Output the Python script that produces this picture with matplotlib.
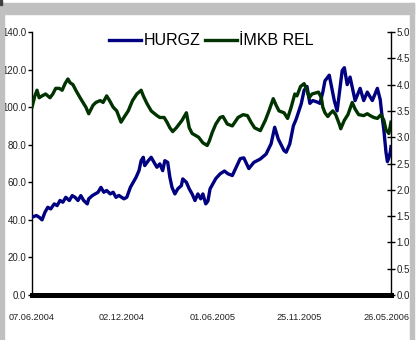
import matplotlib
matplotlib.use('Agg')
import matplotlib.pyplot as plt
from matplotlib.patches import Rectangle

plt.rcParams['font.family'] = ['Liberation Sans', 'DejaVu Sans']

# trading day index (0 = 07.06.2004) and values
imkb_days = [0, 4, 7, 10, 14, 19, 25, 29, 33, 38, 42, 46, 50, 53, 57, 61, 67, 71, 75, 79,
             85, 89, 95, 99, 104, 108, 113, 118, 124, 128, 134, 140, 146, 152, 155, 160,
             166, 174, 178, 184, 188, 192, 196, 201, 209, 215, 219, 223, 232, 238, 244,
             247, 251, 256, 262, 266, 272, 279, 287, 294, 300, 305, 310, 318, 325, 330,
             336, 340, 344, 351, 356, 361, 366, 369, 374, 379, 383, 386, 390, 399, 403,
             405, 408, 412, 415, 419, 423, 428, 430, 435, 440, 446, 450, 455, 462, 467,
             471, 476, 481, 486, 490, 493, 497, 500]
imkb_rel = [100, 106, 109, 105, 106, 107, 105, 107, 110, 110, 109, 112.5, 115, 113, 112,
            109, 105, 102.5, 100, 96.5, 101, 102.5, 103.5, 102.5, 106, 103.5, 100, 98, 92,
            94.5, 98, 103.5, 107, 109, 106, 102, 98, 95.5, 94.5, 94.5, 92, 89, 87, 89, 93,
            97, 89, 86, 84, 81, 79.6, 82, 86.5, 91, 94.5, 95, 91, 90, 94.5, 96, 95.5, 92,
            89, 87.5, 93, 98, 104.5, 101, 98, 97, 94, 100, 107, 106, 111, 112.5, 109, 105,
            107, 108, 105, 100, 97, 95, 96.5, 98, 96, 91, 88.5, 93, 96, 102.5, 99, 96,
            95.5, 96.5, 95.5, 94.5, 94, 96, 93, 88, 86, 92]

hurgz_days = [0, 6, 10, 14, 18, 22, 26, 31, 35, 39, 43, 47, 52, 56, 60, 64, 68, 72, 77, 79,
              84, 88, 92, 96, 100, 104, 109, 113, 117, 121, 128, 132, 137, 141, 145, 149,
              152, 155, 157, 162, 166, 170, 174, 178, 182, 185, 189, 192, 195, 199, 203,
              208, 210, 215, 219, 223, 227, 231, 235, 238, 242, 245, 248, 256, 262, 268,
              273, 279, 290, 295, 302, 309, 318, 326, 333, 338, 343, 351, 354, 359, 364,
              368, 375, 379, 383, 387, 391, 398, 401, 405, 408, 414, 421, 425, 432, 435,
              439, 443, 450, 457, 462, 467, 474, 481, 485, 487, 490, 493, 495, 497, 499, 500]
hurgz = [41.4, 42.3, 41.4, 40, 44, 46.7, 45.8, 48.5, 47.6, 50.3, 49.4, 52, 50.3, 52.9, 52,
         50.3, 52.9, 50.3, 48.5, 51.2, 52.9, 53.8, 54.7, 57.3, 54.7, 55.6, 53.8, 54.7, 52,
         53, 51.2, 52, 57.3, 60, 62.7, 66.2, 71.5, 73.3, 68.9, 71.5, 73.3, 70.6, 68, 69.8,
         66.2, 71.5, 70.6, 62.7, 57.3, 53.8, 56.5, 58.2, 61.8, 60, 56.5, 53.8, 50.3, 53.8,
         51.2, 53.8, 48.5, 50, 56.5, 62, 64.5, 66, 64.5, 63.6, 72.6, 73, 67.3, 70.6, 72.4,
         75, 80.5, 89.3, 83, 76.9, 76, 80.4, 90, 93.7, 101.8, 109, 111, 102, 103.5, 102.6,
         102, 107.9, 114, 117, 103.5, 98, 119.4, 121, 112, 116, 103.5, 110, 103.5, 108,
         103.5, 110, 104, 97, 88, 76, 71, 73, 76, 79]

tick_days = [0, 125, 251, 372, 494]
tick_labels = ['07.06.2004', '02.12.2004', '01.06.2005', '25.11.2005', '26.05.2006']

fig = plt.figure(figsize=(4.17, 3.40), dpi=100)
fig.patch.set_facecolor('white')

# grey frame bits around the chart
gray = '#c0c0c0'
fig.patches.append(Rectangle((0, 1 - 14/340), 414/417, 11/340, transform=fig.transFigure, color=gray, zorder=0))
fig.patches.append(Rectangle((0, 0), 4/417, 1 - 3/340, transform=fig.transFigure, color=gray, zorder=0))
fig.patches.append(Rectangle((410/417, 0), 4/417, 1 - 3/340, transform=fig.transFigure, color=gray, zorder=0))
fig.patches.append(Rectangle((0, 1 - 5/340), 2/417, 5/340, transform=fig.transFigure, color='#404040', zorder=0))

ax = fig.add_axes([32/417, 1 - 295/340, 359/417, 263/340])
ax.plot(hurgz_days, hurgz, color='#000080', lw=2.4, label='HURGZ', zorder=3)
ax.plot(imkb_days, imkb_rel, color='#003300', lw=2.4, label='İMKB REL', zorder=4)

ax.set_xlim(0, 500)
ax.set_ylim(0, 140)
ax.set_yticks(range(0, 141, 20))
ax.set_yticklabels([f'{v:.1f}' for v in range(0, 141, 20)])
ax.set_xticks(tick_days)
ax.set_xticklabels(tick_labels)
ax.tick_params(axis='x', length=0, pad=13, labelsize=6.6, labelcolor='#222222')
ax.tick_params(axis='y', length=3, width=1, pad=1, labelsize=7, direction='out',
               labelcolor='#222222')

for s in ['top', 'right']:
    ax.spines[s].set_visible(False)
ax.spines['left'].set_linewidth(1)
ax.spines['bottom'].set_linewidth(3.6)

ax2 = ax.twinx()
ax2.set_ylim(0, 5)
ax2.set_yticks([i * 0.5 for i in range(11)])
ax2.set_yticklabels([f'{i * 0.5:.1f}' for i in range(11)])
ax2.tick_params(axis='y', length=6, width=1, pad=1, labelsize=7, direction='inout',
                labelcolor='#222222')
for s in ['top', 'left', 'bottom']:
    ax2.spines[s].set_visible(False)
ax2.spines['right'].set_linewidth(1)

leg = ax.legend(loc='upper center', bbox_to_anchor=(0.5, 1.05), ncol=2, frameon=False,
                fontsize=11.5, handlelength=2.0, handletextpad=0.15, columnspacing=0.3)

fig.savefig('out.png', dpi=100)
